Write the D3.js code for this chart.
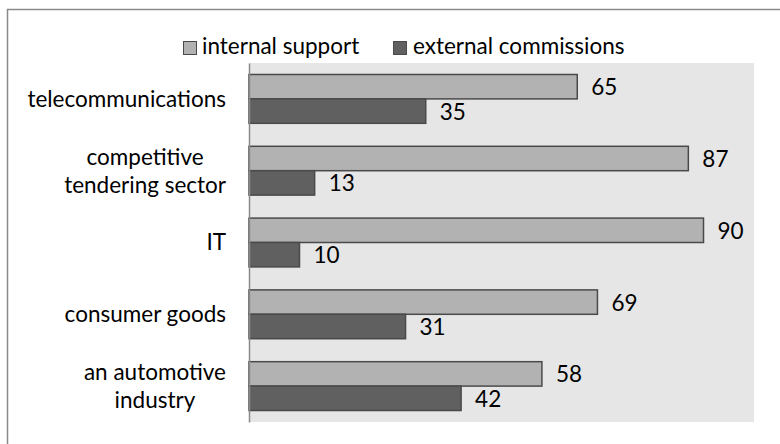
<!DOCTYPE html>
<html><head><meta charset="utf-8">
<script src="https://cdn.jsdelivr.net/npm/d3@7"></script>
<style>
html,body{margin:0;padding:0;background:#fff;}
svg{display:block;}
text{font-family:Lato,"Open Sans",sans-serif;fill:#000;}
</style></head>
<body><svg id="c" width="780" height="444"></svg>
<script>
const categories = [["telecommunications"],["competitive","tendering sector"],["IT"],["consumer goods"],["an automotive","industry"]];
const seriesNames = ["internal support","external commissions"];
const internalSupport = [65,87,90,69,58];
const externalCommissions = [35,13,10,31,42];
const xDomain = [0,100];

const svg = d3.select("#c");
const colors = ["#b2b2b2","#606060"];
const L=249, R=754, T=63, B=422;
const FS = 22.5;

svg.append("rect").attr("x",7.5).attr("y",9.5).attr("width",800).attr("height",460)
  .attr("fill","#fff").attr("stroke","#8a8a8a").attr("stroke-width",1.5);

svg.append("rect").attr("x",L).attr("y",T).attr("width",R-L).attr("height",B-T).attr("fill","#e6e6e6");

const keys = categories.map((c,i)=>i);
const y = d3.scaleBand().domain(keys).range([T,B]).paddingInner(0.32).paddingOuter(0.16);
const y1 = d3.scaleBand().domain([0,1]).range([0,y.bandwidth()]);
const x = d3.scaleLinear().domain(xDomain).range([L,R]);

const data = keys.map(i=>({i, vals:[internalSupport[i], externalCommissions[i]]}));
const g = svg.selectAll("g.grp").data(data).join("g").attr("class","grp")
  .attr("transform",d=>`translate(0,${y(d.i)})`);
g.selectAll("rect").data(d=>d.vals.map((v,s)=>({v,s}))).join("rect")
  .attr("x",x(0)).attr("y",d=>y1(d.s)).attr("width",d=>x(d.v)-x(0)).attr("height",y1.bandwidth())
  .attr("fill",d=>colors[d.s]).attr("stroke","#4a4a4a").attr("stroke-width",1.5);
g.selectAll("text.val").data(d=>d.vals.map((v,s)=>({v,s}))).join("text").attr("class","val")
  .attr("x",d=>x(d.v)+14).attr("y",d=>y1(d.s)+y1.bandwidth()/2+8.5)
  .attr("font-size",FS).text(d=>d.v);

// axis line
const yAxis = d3.axisLeft(y).tickSize(0).tickFormat("");
const ax = svg.append("g").attr("transform",`translate(${L},0)`).call(yAxis);
ax.select(".domain").attr("stroke","#8a8a8a").attr("stroke-width",1.5);

// category labels (right-aligned block, lines centred within block)
categories.forEach((lines,i)=>{
  const cy = y(i)+y.bandwidth()/2;
  const lh = 28;
  const t = svg.append("text").attr("text-anchor","middle").attr("font-size",FS);
  const ts = lines.map((ln,j)=>t.append("tspan").attr("y",cy+(j-(lines.length-1)/2)*lh+7.8).text(ln).node());
  const w = Math.max(...ts.map(n=>n.getComputedTextLength()));
  ts.forEach(n=>n.setAttribute("x",226-w/2));
});

// legend
const leg = [{x:183,tx:202},{x:393,tx:413}];
seriesNames.forEach((n,s)=>{
  svg.append("rect").attr("x",leg[s].x+0.5).attr("y",41.5).attr("width",13).attr("height",13)
    .attr("fill",colors[s]).attr("stroke","#4a4a4a").attr("stroke-width",1);
  svg.append("text").attr("x",leg[s].tx).attr("y",53.5).attr("font-size",FS).text(n);
});
</script></body></html>
